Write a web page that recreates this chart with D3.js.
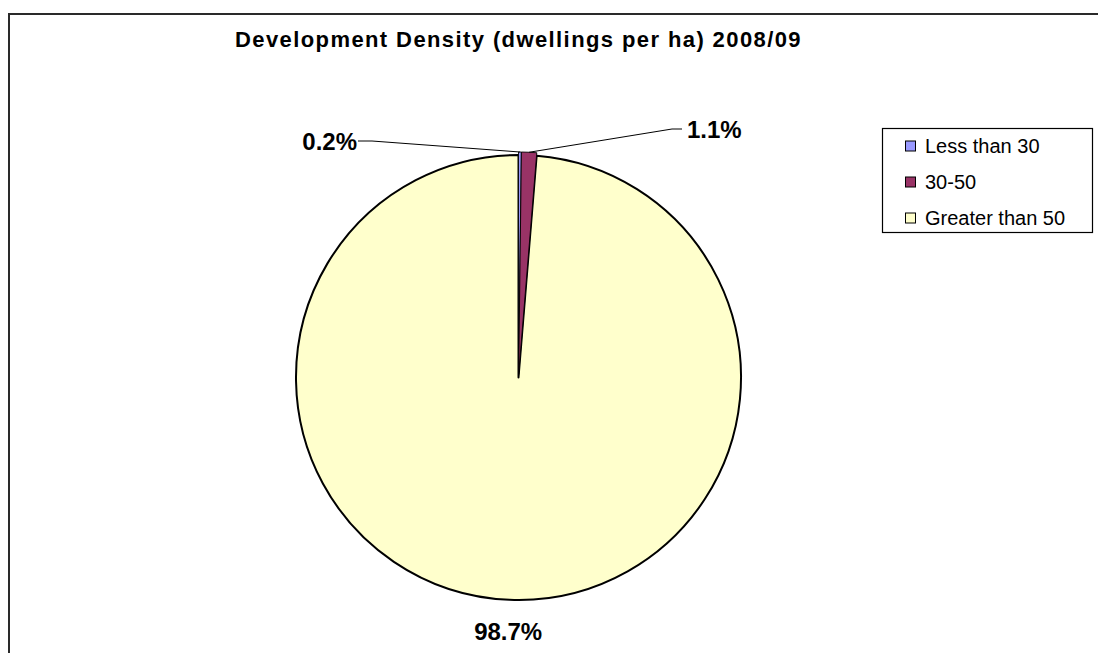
<!DOCTYPE html>
<html>
<head>
<meta charset="utf-8">
<script src="https://cdn.jsdelivr.net/npm/d3@7"></script>
<style>
  body { margin: 0; background: #fff; }
  svg { display: block; font-family: "Liberation Sans", Arial, sans-serif; }
</style>
</head>
<body>
<svg id="chart" width="1098" height="653"></svg>
<script>
// chart data
var categories = ['Less than 30', '30-50', 'Greater than 50'];
var values = [0.2, 1.1, 98.7];
var labels = ['0.2%', '1.1%', '98.7%'];
var colors = ['#9999FF', '#993366', '#FFFFCC'];

var title = 'Development Density (dwellings per ha) 2008/09';

var svg = d3.select('#chart');
var W = 1098, H = 653;
var cx = 518.5, cy = 377.5, radius = 222.5;
var explode = [3, 3, 0]; // small slices pulled out a little

// outer frame (runs off the bottom/right of the picture)
svg.append('rect')
    .attr('x', 9).attr('y', 14)
    .attr('width', W + 20).attr('height', H + 20)
    .attr('fill', 'none')
    .attr('stroke', '#2a2a2a')
    .attr('stroke-width', 2);

svg.append('text')
    .attr('x', cx).attr('y', 47)
    .attr('text-anchor', 'middle')
    .style('font-size', '22px')
    .style('font-weight', 'bold')
    .style('letter-spacing', '1.4px')
    .text(title);

var data = categories.map(function(c, i) {
    return { name: c, value: values[i], label: labels[i], color: colors[i], ex: explode[i] };
});

var pie = d3.pie().sort(null).value(d => d.value);
var arcs = pie(data);
var arc = d3.arc().innerRadius(0).outerRadius(radius);

var g = svg.append('g').attr('transform', 'translate(' + cx + ',' + cy + ')');

function offset(a, r) {
    var m = (a.startAngle + a.endAngle) / 2;
    return [Math.sin(m) * r, -Math.cos(m) * r];
}

// big slice first so the pulled-out ones sit on top
var order = [2, 0, 1];
order.forEach(function(i) {
    var a = arcs[i];
    var o = offset(a, a.data.ex);
    g.append('path')
        .attr('d', arc(a))
        .attr('transform', 'translate(' + o[0] + ',' + o[1] + ')')
        .attr('fill', a.data.color)
        .attr('stroke', '#000')
        .attr('stroke-width', i == 2 ? 2 : 0.9)
        .attr('stroke-linejoin', 'round');
});

// label placement (relative to pie centre); big one sits under its slice
var labelPos = [
    { dx: -161.5, dy: -236.5, anchor: 'end', leader: true },
    { dx: 168.5, dy: -248.5, anchor: 'start', leader: true },
    { dx: null, dy: 253.5, anchor: 'middle', leader: false }
];

arcs.forEach(function(a, i) {
    var p = labelPos[i];
    var lx, ly;
    if (p.dx === null) {
        lx = offset(a, p.dy)[0];
        ly = p.dy;
    } else {
        lx = p.dx; ly = p.dy;
    }
    if (p.leader) {
        var edge = offset(a, radius + a.data.ex);
        var elbow = p.anchor === 'end' ? lx + 15 : lx - 15;
        var ex = p.anchor === 'end' ? lx + 1 : lx - 5;
        g.append('polyline')
            .attr('points', [[ex, ly], [elbow, ly], edge].map(q => q.join(',')).join(' '))
            .attr('fill', 'none')
            .attr('stroke', '#000')
            .attr('stroke-width', 1);
    }
    g.append('text')
        .attr('x', lx).attr('y', ly)
        .attr('text-anchor', p.anchor)
        .attr('dominant-baseline', 'central')
        .style('font-size', '24px')
        .style('font-weight', 'bold')
        .text(a.data.label);
});

// legend
var lg = svg.append('g');
lg.append('rect')
    .attr('x', 882.5).attr('y', 128.5)
    .attr('width', 210).attr('height', 104)
    .attr('fill', '#fff')
    .attr('stroke', '#000')
    .attr('stroke-width', 1.2);

var ly = d3.scalePoint().domain(categories).range([146, 218]);
categories.forEach(function(c, i) {
    lg.append('rect')
        .attr('x', 905.5).attr('y', ly(c) - 5)
        .attr('width', 10).attr('height', 10)
        .attr('fill', colors[i])
        .attr('stroke', '#000')
        .attr('stroke-width', 1);
    lg.append('text')
        .attr('x', 925).attr('y', ly(c))
        .attr('dominant-baseline', 'central')
        .style('font-size', '20px')
        .text(c);
});
</script>
</body>
</html>
